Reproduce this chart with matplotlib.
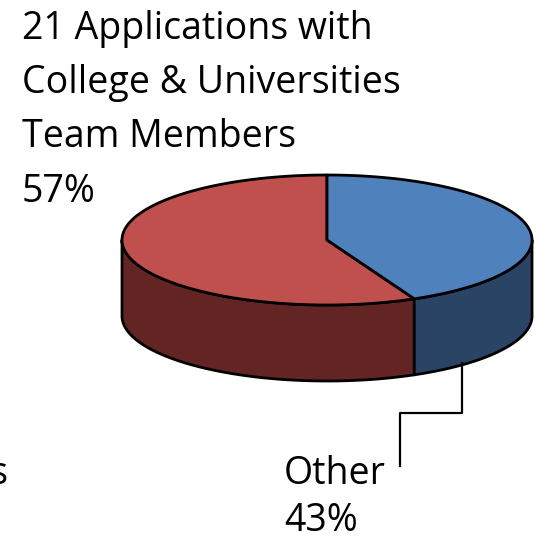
import numpy as np
import matplotlib.pyplot as plt
from matplotlib.patches import Polygon

# data
labels = ['21 Applications with\nCollege & Universities\nTeam Members', 'Other']
values = [57, 43]
top_colors = ['#C0504D', '#4F81BD']
side_colors = ['#632523', '#2A4466']

# pie geometry in pixels
cx, cy = 327, 240
a, b = 205, 65
depth = 76

def pt(t, dy=0):
    return cx + a * np.cos(t), cy - b * np.sin(t) + dy

fig = plt.figure(figsize=(5.36, 5.39), dpi=100)
ax = fig.add_axes([0, 0, 1, 1])
ax.set_xlim(0, 536)
ax.set_ylim(539, 0)
ax.axis('off')

# slice angles: "Other" starts at top and goes clockwise
total = sum(values)
t_top = np.pi / 2
t_split = t_top - 2 * np.pi * values[1] / total
spans = [(t_top, t_split + 2 * np.pi), (t_split, t_top)]
# visible (front) part of each side
fronts = [(np.pi, t_split + 2 * np.pi), (t_split, 0)]

for i in [0, 1]:
    lo, hi = fronts[i]
    ts = np.linspace(lo, hi, 200)
    x, y = pt(ts)
    xb, yb = pt(ts[::-1], depth)
    poly = np.column_stack([np.concatenate([x, xb]), np.concatenate([y, yb])])
    ax.add_patch(Polygon(poly, closed=True, facecolor=side_colors[i],
                         edgecolor='black', linewidth=2, joinstyle='round'))

for i in [0, 1]:
    t0, t1 = spans[i]
    ts = np.linspace(t0, t1, 300)
    x, y = pt(ts)
    poly = np.column_stack([np.concatenate([[cx], x]), np.concatenate([[cy], y])])
    ax.add_patch(Polygon(poly, closed=True, facecolor=top_colors[i],
                         edgecolor='black', linewidth=2, joinstyle='round'))

# labels
font = 'Open Sans'
fs = 27
ax.text(22, 10, labels[0] + '\n' + f'{values[0]}%', ha='left', va='top',
        fontsize=fs, family=font, linespacing=1.56)
ax.text(284, 484, labels[1], ha='left', va='baseline', fontsize=fs, family=font)
ax.text(284, 531, f'{values[1]}%', ha='left', va='baseline', fontsize=fs, family=font)
ax.text(9, 484, 'Universities', ha='right', va='baseline', fontsize=fs, family=font)

# leader line for "Other"
ax.plot([462, 462, 400, 400], [363, 413, 413, 466], color='black', linewidth=1.6)

fig.savefig('out.png', dpi=100)
